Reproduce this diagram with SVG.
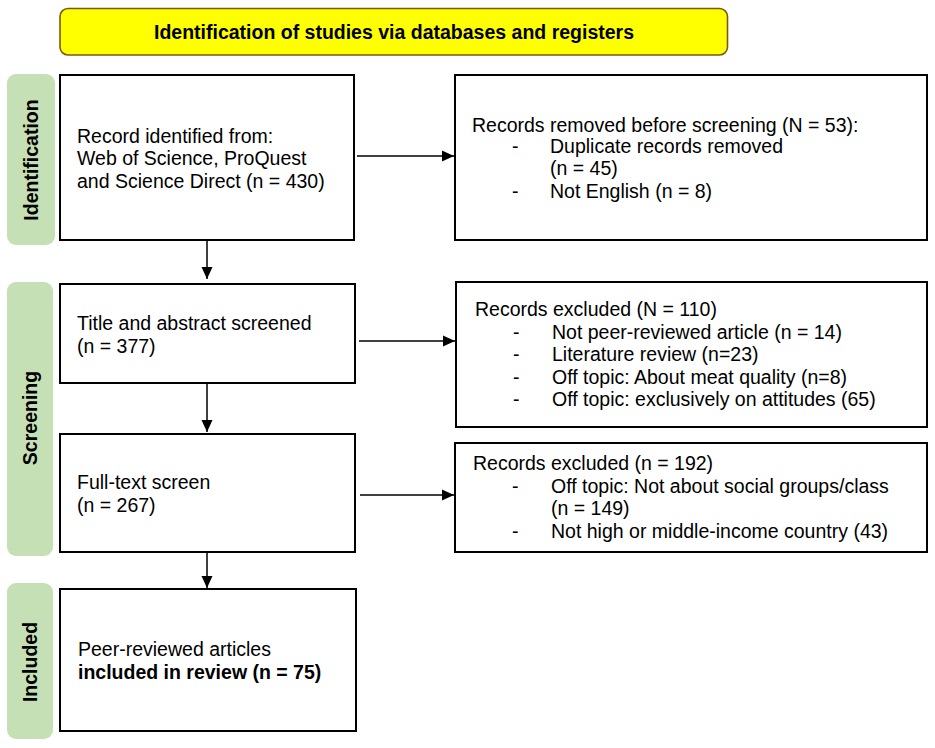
<svg xmlns="http://www.w3.org/2000/svg" width="935" height="748" viewBox="0 0 935 748">
<defs>
<style>
.box{fill:#fff;stroke:#000;stroke-width:2}
.side{fill:#c5e0b4;stroke:none}
.t{font-family:"Liberation Sans",Arial,sans-serif;font-size:19.5px;fill:#000}
.b{font-weight:bold}
.lbl{font-family:"Liberation Sans",Arial,sans-serif;font-size:19.5px;font-weight:bold;fill:#000;text-anchor:middle}
.c{stroke:#000;stroke-width:1.5;fill:none;marker-end:url(#ah)}
</style>
<marker id="ah" markerUnits="userSpaceOnUse" markerWidth="12" markerHeight="12" viewBox="0 0 12 12" refX="12" refY="6" orient="auto">
<path d="M0,0.5 L12,6 L0,11.5 Z" fill="#000"/>
</marker>
</defs>
<rect width="935" height="748" fill="#fff"/>

<g id="banner">
<rect x="60" y="8.5" width="667.5" height="46.5" rx="8" fill="#ffff00" stroke="#7a5a10" stroke-width="1.6"/>
<text class="t b" x="394" y="38.5" text-anchor="middle">Identification of studies via databases and registers</text>
</g>

<g id="phase-identification">
<rect class="side" x="7" y="74" width="48" height="171" rx="9"/>
<text class="lbl" transform="translate(31,160) rotate(-90)" x="0" y="7">Identification</text>
</g>
<g id="phase-screening">
<rect class="side" x="7" y="282" width="46" height="274" rx="9"/>
<text class="lbl" transform="translate(30,418) rotate(-90)" x="0" y="7">Screening</text>
</g>
<g id="phase-included">
<rect class="side" x="7" y="583" width="46" height="156" rx="9"/>
<text class="lbl" transform="translate(30,662) rotate(-90)" x="0" y="7">Included</text>
</g>

<g id="node-identified">
<rect class="box" x="60" y="75" width="294" height="165"/>
<text class="t" x="77" y="142.5">Record identified from:</text>
<text class="t" x="77" y="165">Web of Science, ProQuest</text>
<text class="t" x="77" y="187.5">and Science Direct (n = 430)</text>
</g>

<g id="node-removed">
<rect class="box" x="455" y="75" width="472" height="165"/>
<text class="t" x="472" y="131.5">Records removed before screening (N = 53):</text>
<text class="t" x="512" y="153">-</text>
<text class="t" x="550" y="153">Duplicate records removed</text>
<text class="t" x="550" y="175">(n = 45)</text>
<text class="t" x="512" y="197.5">-</text>
<text class="t" x="550" y="197.5">Not English (n = 8)</text>
</g>

<g id="node-title-abstract">
<rect class="box" x="60" y="284" width="295" height="99"/>
<text class="t" x="77" y="330">Title and abstract screened</text>
<text class="t" x="77" y="353">(n = 377)</text>
</g>

<g id="node-excluded-1">
<rect class="box" x="456" y="282" width="471" height="145"/>
<text class="t" x="475" y="316">Records excluded (N = 110)</text>
<text class="t" x="513" y="338.5">-</text>
<text class="t" x="552" y="338.5">Not peer-reviewed article (n = 14)</text>
<text class="t" x="513" y="361">-</text>
<text class="t" x="552" y="361">Literature review (n=23)</text>
<text class="t" x="513" y="383.5">-</text>
<text class="t" x="552" y="383.5">Off topic: About meat quality (n=8)</text>
<text class="t" x="513" y="406">-</text>
<text class="t" x="552" y="406">Off topic: exclusively on attitudes (65)</text>
</g>

<g id="node-fulltext">
<rect class="box" x="60" y="434" width="295" height="118"/>
<text class="t" x="77" y="488.5">Full-text screen</text>
<text class="t" x="77" y="511.5">(n = 267)</text>
</g>

<g id="node-excluded-2">
<rect class="box" x="455" y="443" width="472" height="109"/>
<text class="t" x="473" y="470">Records excluded (n = 192)</text>
<text class="t" x="512" y="492.5">-</text>
<text class="t" x="551" y="492.5">Off topic: Not about social groups/class</text>
<text class="t" x="551" y="515">(n = 149)</text>
<text class="t" x="512" y="537.5">-</text>
<text class="t" x="551" y="537.5">Not high or middle-income country (43)</text>
</g>

<g id="node-included">
<rect class="box" x="60" y="589" width="296" height="142"/>
<text class="t" x="78" y="655.5">Peer-reviewed articles</text>
<text class="t b" x="78" y="678.5">included in review (n = 75)</text>
</g>

<g id="connectors">
<line class="c" x1="357" y1="156" x2="454" y2="156"/>
<line class="c" x1="359" y1="341" x2="455" y2="341"/>
<line class="c" x1="360" y1="495" x2="454" y2="495"/>
<line class="c" x1="207" y1="241" x2="207" y2="279"/>
<line class="c" x1="207" y1="384" x2="207" y2="432"/>
<line class="c" x1="207" y1="553" x2="207" y2="588"/>
</g>
</svg>
